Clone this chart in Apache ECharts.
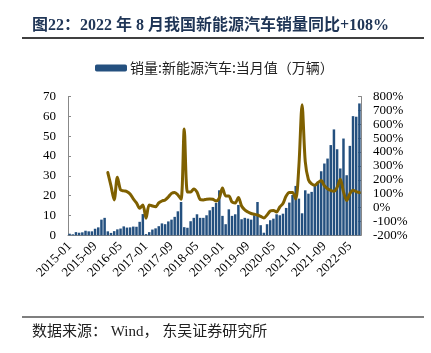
<!DOCTYPE html>
<html>
<head>
<meta charset="utf-8">
<script src="https://cdn.jsdelivr.net/npm/echarts@6/dist/echarts.min.js"></script>
<style>
  html, body { margin: 0; padding: 0; background: #fff; }
  #chart { width: 431px; height: 353px; }
</style>
</head>
<body>
<div id="chart"></div>
<script>
// 月份 2015-01 ~ 2022-08
const months = [];
for (let y = 2015; y <= 2022; y++) {
  for (let m = 1; m <= 12; m++) {
    if (y === 2022 && m > 8) break;
    months.push(y + "-" + String(m).padStart(2, "0"));
  }
}

// 销量:新能源汽车:当月值（万辆）
const sales2015 = [0.8, 0.5, 1.6, 1.3, 1.5, 2.3, 2.0, 2.0, 3.3, 4.0, 7.9, 8.8];
const sales2016 = [2.0, 1.2, 2.1, 3.0, 3.4, 4.5, 3.9, 4.0, 4.4, 4.3, 6.8, 10.7];
const sales2017 = [0.6, 1.6, 2.9, 3.5, 4.6, 6.0, 5.6, 7.0, 7.9, 9.3, 12.1, 16.8];
const sales2018 = [4.1, 3.8, 7.1, 8.8, 10.6, 8.8, 8.8, 10.1, 12.6, 14.3, 16.3, 22.7];
const sales2019 = [9.8, 5.6, 13.1, 9.8, 10.6, 15.3, 8.1, 8.8, 8.4, 7.9, 10.1, 16.8];
const sales2020 = [5.1, 1.3, 5.6, 7.6, 8.4, 10.6, 10.1, 10.9, 13.8, 16.5, 20.3, 24.9];
const sales2021 = [18.5, 11.1, 22.7, 21.0, 21.9, 24.9, 26.6, 32.3, 36.2, 38.7, 45.5, 53.4];
const sales2022 = [43.4, 33.7, 48.8, 30.3, 45.1, 60.1, 59.8, 66.5];

// 同比（%），2015 年无数据
const yoy2015 = [null, null, null, null, null, null, null, null, null, null, null, null];
const yoy2016 = [252, 156, 55, 218, 127, 120, 115, 98, 62, 33, -5, 19];
const yoy2017 = [-77, 19, 11, 6, 33, 47, 55, 76, 102, 109, 91, 60];
const yoy2018 = [565, 112, 112, 134, 112, 58, 55, 60, 62, 60, 47, 69];
const yoy2019 = [141, 84, 84, 40, 33, 73, 11, -17, -32, -43, -48, -54];
const yoy2020 = [-64, -75, -53, -25, -21, -32, 4, 29, 84, 109, 109, 62];
const yoy2021 = [300, 740, 330, 200, 170, 160, 180, 195, 157, 136, 124, 117];
const yoy2022 = [145, 204, 113, 50, 100, 125, 115, 108];

const sales = [].concat(sales2015, sales2016, sales2017, sales2018, sales2019, sales2020, sales2021, sales2022);
const yoy = [].concat(yoy2015, yoy2016, yoy2017, yoy2018, yoy2019, yoy2020, yoy2021, yoy2022);

const serif = "'Liberation Serif', 'Times New Roman', serif";
const cjk = "'Liberation Serif', 'Noto Sans CJK SC', serif";

const chart = echarts.init(document.getElementById("chart"));
chart.setOption({
  animation: false,
  backgroundColor: "#fff",
  title: {
    text: "图22：2022 年 8 月我国新能源汽车销量同比+108%",
    left: 27,
    top: 13,
    textStyle: {
      fontFamily: cjk,
      fontSize: 16,
      fontWeight: "bold",
      color: "#1f3556"
    }
  },
  graphic: [
    { type: "line", shape: { x1: 22, y1: 38, x2: 424, y2: 38 }, style: { stroke: "#000", lineWidth: 1.5 } },
    { type: "line", shape: { x1: 22, y1: 317, x2: 424, y2: 317 }, style: { stroke: "#000", lineWidth: 1.2 } },
    {
      type: "text",
      left: 32,
      top: 325,
      style: {
        text: "数据来源： Wind， 东吴证券研究所",
        font: "15px 'Liberation Serif', 'Noto Sans CJK SC'",
        fill: "#222"
      }
    }
  ],
  legend: {
    data: ["销量:新能源汽车:当月值（万辆）"],
    left: 90,
    top: 56,
    itemWidth: 32,
    itemHeight: 7,
    itemGap: 4,
    textStyle: {
      fontFamily: "'Noto Sans CJK SC'",
      fontSize: 14,
      color: "#222",
      padding: [0, 0, 0, -2]
    }
  },
  grid: {
    left: 68,
    right: 70,
    top: 96.5,
    bottom: 117.7
  },
  xAxis: {
    type: "category",
    data: months,
    boundaryGap: true,
    axisLine: { lineStyle: { color: "#888" } },
    axisTick: { show: false },
    axisLabel: {
      interval: 7,
      rotate: 45,
      margin: 9,
      fontFamily: serif,
      fontSize: 13,
      color: "#000"
    }
  },
  yAxis: [
    {
      type: "value",
      min: 0,
      max: 70,
      interval: 10,
      splitLine: { show: false },
      axisLine: { show: true, lineStyle: { color: "#888" } },
      axisTick: { show: true, inside: true, length: 3, lineStyle: { color: "#888" } },
      axisLabel: { margin: 12, fontFamily: serif, fontSize: 13, color: "#000" }
    },
    {
      type: "value",
      min: -200,
      max: 800,
      interval: 100,
      splitLine: { show: false },
      axisLine: { show: true, lineStyle: { color: "#888" } },
      axisTick: { show: true, inside: true, length: 3, lineStyle: { color: "#888" } },
      axisLabel: { margin: 12, fontFamily: serif, fontSize: 13, color: "#000", formatter: "{value}%" }
    }
  ],
  series: [
    {
      name: "销量:新能源汽车:当月值（万辆）",
      type: "bar",
      data: sales,
      yAxisIndex: 0,
      barCategoryGap: "22%",
      itemStyle: { color: "#24507f" }
    },
    {
      name: "同比",
      type: "line",
      data: yoy,
      yAxisIndex: 1,
      symbol: "none",
      smooth: 0.3,
      lineStyle: { color: "#7f6000", width: 3, join: "round", cap: "round" }
    }
  ]
});
</script>
</body>
</html>
